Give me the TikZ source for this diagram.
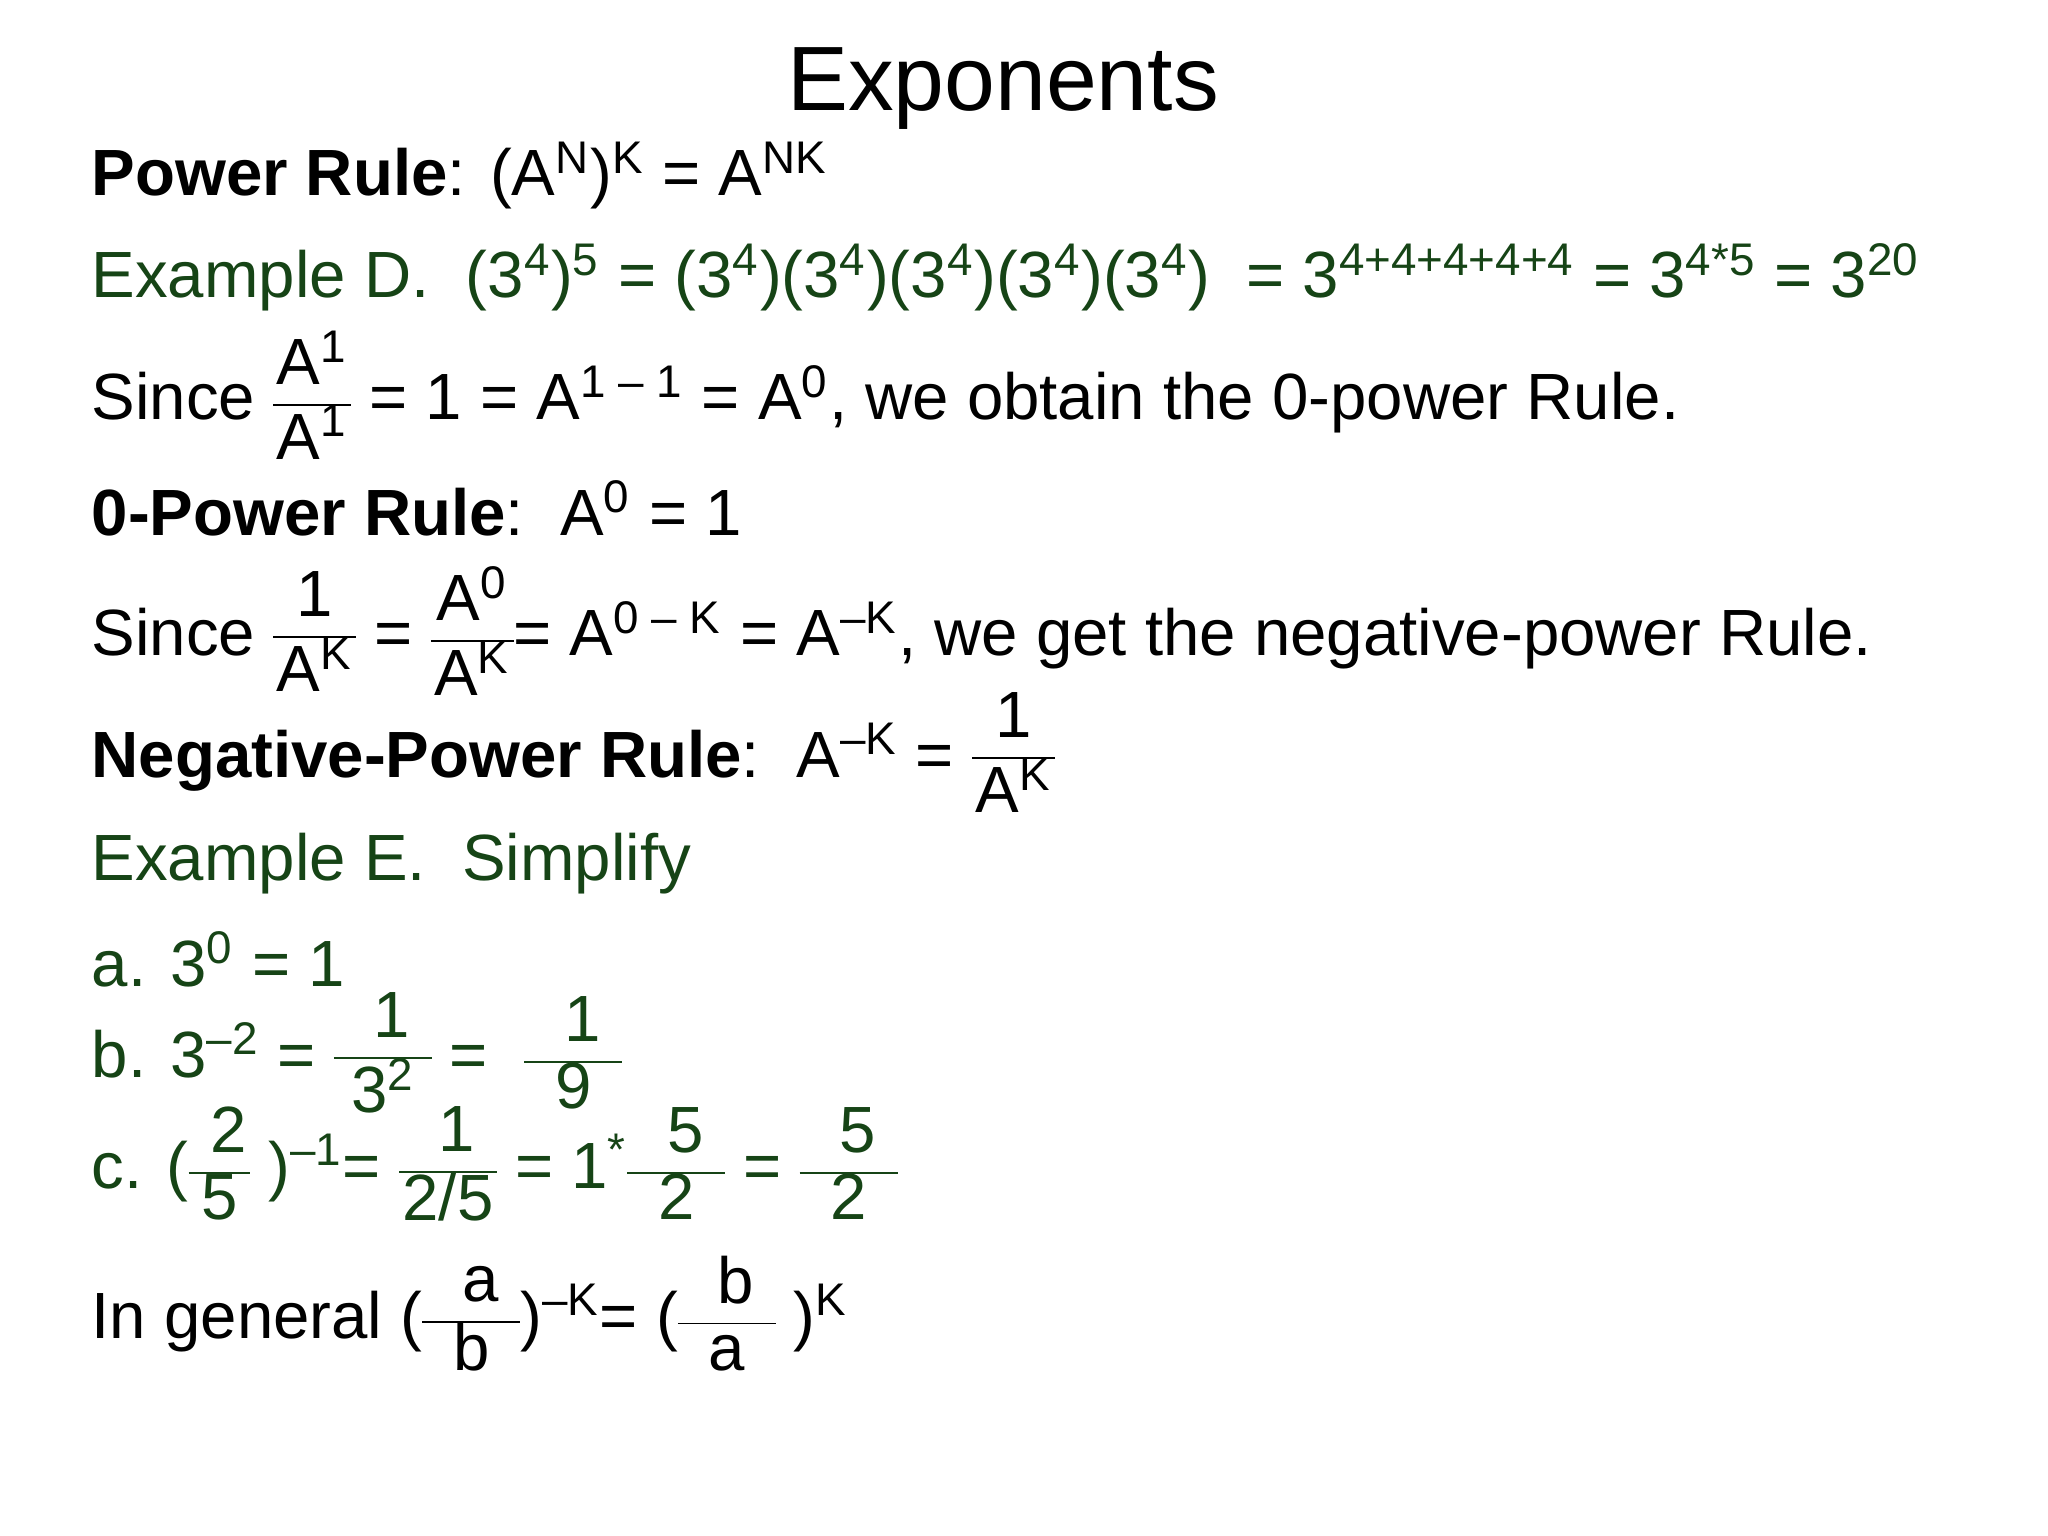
\documentclass[tikz,border=0pt]{standalone}
\usepackage{fontspec}
\setmainfont{Liberation Sans}
\definecolor{dg}{RGB}{22,68,22}
\newcommand\su[1]{\textsuperscript{#1}}
\newcommand\fr[2]{$\vcenter{\hbox{\renewcommand\arraystretch{0.85}\setlength\tabcolsep{1pt}\begin{tabular}{c}#1\\\hline #2\end{tabular}}}$}
\tikzset{ln/.style={anchor=base west,inner sep=0pt,font=\fontsize{18.6}{22}\selectfont},
 gr/.style={ln,text=dg}}
\begin{document}
\begin{tikzpicture}[x=1cm,y=1cm]
\useasboundingbox (0,0) rectangle (20.48,-15.36);
\node[ln,anchor=base,font=\fontsize{26}{31}\selectfont] (t) at (10.03,-1.11) {Exponents};
\node[ln] (p) at (0.91,-1.96) {\textbf{Power Rule}: (A\su{N})\su{K} = A\su{NK}};
\node[gr] (d) at (0.91,-2.98) {Example D.\ \ (3\su4)\su5 = (3\su4)(3\su4)(3\su4)(3\su4)(3\su4) \ = 3\su{4+4+4+4+4} = 3\su{4*5} = 3\su{20}};
\node[ln] (s1) at (0.91,-4.20) {Since \fr{A\su1}{A\su1} = 1 = A\su{1 -- 1} = A\su0, we obtain the 0-power Rule.};
\node[ln] (z) at (0.91,-5.35) {\textbf{0-Power Rule}:\ \ A\su0 = 1};
\node[ln] (s2) at (0.91,-6.56) {Since \fr{1}{A\su K} = \fr{A\su0}{A\su K}= A\su{0 -- K} = A\su{--K}, we get the negative-power Rule.};
\node[ln] (n) at (0.91,-7.77) {\textbf{Negative-Power Rule}:\ \ A\su{--K} = \fr{1}{A\su K}};
\node[gr] (e) at (0.91,-8.81) {Example E.\ \ Simplify};
\node[gr] (a) at (0.91,-9.86) {a. 3\su0 = 1};
\node[gr] (b) at (0.91,-10.77) {b. 3\su{--2} = \fr{\ \ 1\ \ }{3\su2} = \ \fr{\ \ 1\ \ }{9}};
\node[gr] (c) at (0.91,-11.88) {c. (\fr{\ 2\ }{5} )\su{--1}= \fr{\ 1\ }{2/5} = 1\su{*}\fr{\ \ 5\ \ }{2} = \fr{\ \ 5\ \ }{2}};
\node[ln] (g) at (0.91,-13.38) {In general (\fr{\ \ a\ \ }{b})\su{--K}= (\fr{\ \ b\ \ }{a} )\su K};
\end{tikzpicture}
\end{document}
